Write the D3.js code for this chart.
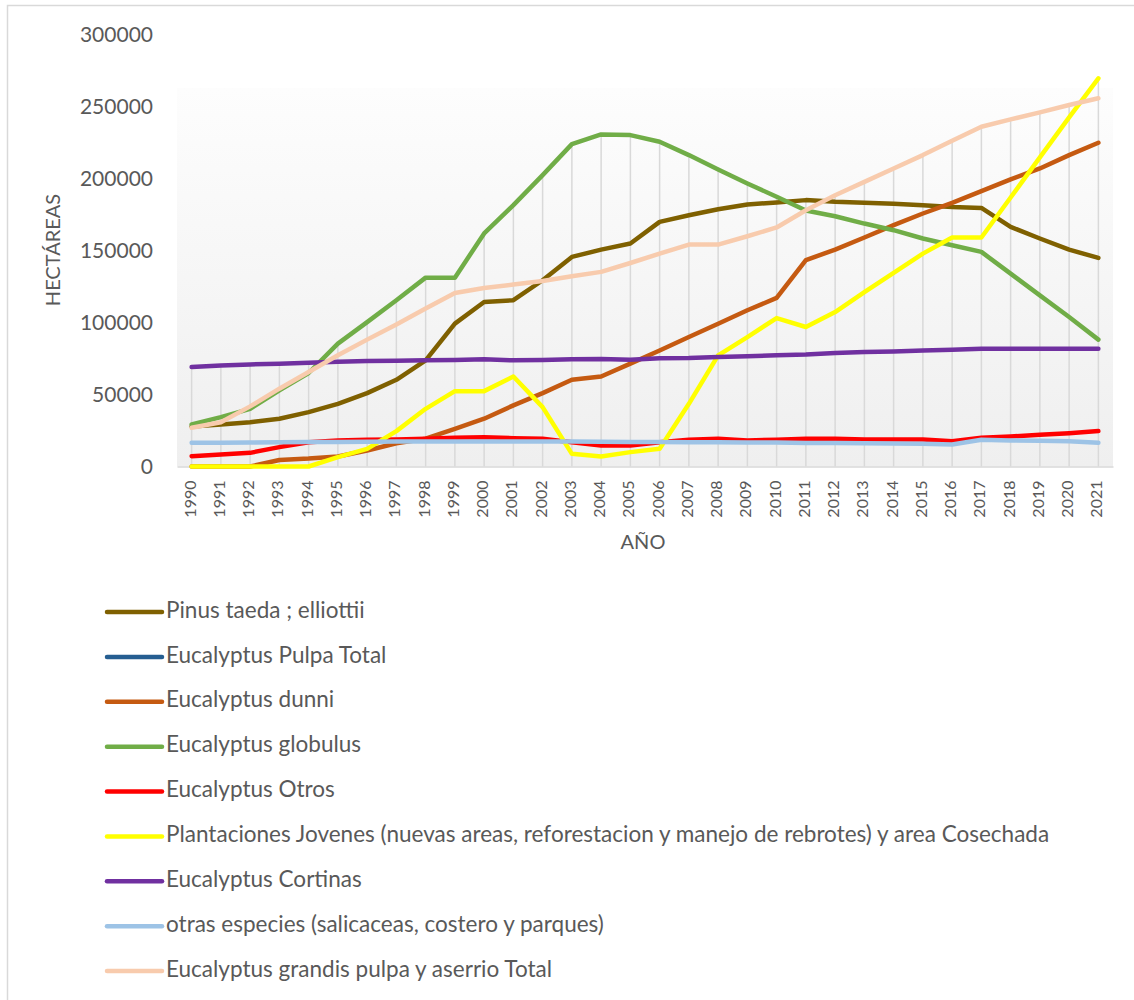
<!DOCTYPE html>
<html><head><meta charset="utf-8">
<script src="https://cdn.jsdelivr.net/npm/d3@7/dist/d3.min.js"></script>
<style>body{margin:0;background:#fff}svg{display:block}</style>
</head><body>
<svg id="c" width="1134" height="1000"></svg>
<script>
const years = d3.range(1990, 2022).map(String);
const yTicks = [0, 50000, 100000, 150000, 200000, 250000, 300000];
const seriesNames = [
  "Pinus taeda ; elliottii",
  "Eucalyptus Pulpa Total",
  "Eucalyptus dunni",
  "Eucalyptus globulus",
  "Eucalyptus Otros",
  "Plantaciones Jovenes (nuevas areas, reforestacion y manejo de rebrotes) y area Cosechada",
  "Eucalyptus Cortinas",
  "otras especies (salicaceas, costero y parques)",
  "Eucalyptus grandis pulpa y aserrio Total"
];
const seriesColors = ["#7f6000","#255e91","#c55a11","#70ad47","#ff0000","#ffff00","#7030a0","#9dc3e6","#f8cbad"];
const pinus = [27800,29200,30800,33200,37800,43600,51000,60300,73800,99300,114400,115600,129500,145700,150800,155000,170100,174700,178900,182200,183600,185200,184000,183300,182600,181700,180500,179800,166600,158500,150800,145000];
const pulpaTotal = [];
const dunni = [0,0,0,4500,5500,7000,11100,16200,19300,26200,33200,42500,51000,60300,62600,71500,80700,90000,99300,108600,117200,143500,150800,159200,167800,175900,183300,191400,199600,207200,216500,225100];
const globulus = [29200,34300,40100,52900,65000,85400,100400,115600,131300,131300,162000,181700,202600,224100,230900,230400,225800,216500,206500,196800,187500,178000,174000,168900,164300,158500,153800,149200,134100,119000,103900,88200];
const otros = [7200,8400,9500,13500,16900,18100,18600,18800,19300,20000,20400,19700,19300,16900,14600,14600,16900,18600,19300,18100,18600,19300,19300,18800,18800,18800,17600,20000,20900,22000,23200,24600];
const plantaciones = [0,0,0,0,0,6500,12300,24600,40100,52400,52400,62600,41300,8800,7000,10000,12300,43600,77300,90000,103200,97000,107400,121300,134600,148000,159200,159200,187000,214900,242700,269900];
const cortinas = [69100,70300,71000,71500,72200,72900,73300,73600,73800,74000,74500,73800,74000,74500,74700,74200,75200,75400,76100,76600,77300,77800,78900,79600,80000,80700,81200,81900,81900,81900,81900,81900];
const otras = [16500,16500,16700,16800,17000,17100,17200,17300,17400,17400,17400,17400,17400,17300,17200,17100,17000,16900,16800,16700,16600,16400,16300,16200,16000,15800,15300,18600,18100,17900,17600,16500];
const grandis = [26900,30800,41800,54100,65700,77300,88200,98800,109800,120600,124100,126500,129000,132300,135300,141500,148000,154300,154300,160100,166200,178200,188600,197900,207200,216500,226500,236200,241300,246200,251300,256000];

const seriesValues = [pinus, pulpaTotal, dunni, globulus, otros, plantaciones, cortinas, otras, grandis];
const series = seriesNames.map((n,i)=>({name:n, color:seriesColors[i], values:seriesValues[i]}));

const svg = d3.select("#c");
const FONT = "Lato, 'Open Sans', sans-serif";
const TXT = "#595959";

// frame
svg.append("rect").attr("x",7.5).attr("y",5.5).attr("width",1200).attr("height",1200)
  .attr("fill","#fff").attr("stroke","#d9d9d9").attr("stroke-width",1.5);

const x = d3.scaleBand().domain(years).range([177,1113]);
const y = d3.scaleLinear().domain([0,300000]).range([466.5,35]);
const cx = d => x(d) + x.bandwidth()/2;

// plot background gradient
const defs = svg.append("defs");
const g = defs.append("linearGradient").attr("id","bg").attr("x1",0).attr("y1",0).attr("x2",0).attr("y2",1);
g.append("stop").attr("offset","0%").attr("stop-color","#fdfdfd");
g.append("stop").attr("offset","100%").attr("stop-color","#efefef");
svg.append("rect").attr("x",177).attr("y",88).attr("width",936).attr("height",y(0)-88).attr("fill","url(#bg)");

// drop lines
const maxes = years.map((yr,i)=>d3.max(series, s => s.values[i]));
svg.append("g").selectAll("line").data(years).join("line")
  .attr("x1",d=>cx(d)).attr("x2",d=>cx(d))
  .attr("y1",(d,i)=>y(maxes[i])).attr("y2",y(0))
  .attr("stroke","#d9d9d9").attr("stroke-width",1.5);

// x axis
const xAxis = svg.append("g").attr("transform",`translate(0,${y(0)})`).call(d3.axisBottom(x).tickSize(0).tickPadding(0));
xAxis.select(".domain").attr("stroke","#d9d9d9").attr("stroke-width",1.5);
xAxis.selectAll("text").attr("font-family",FONT).attr("font-size",16).attr("fill",TXT)
  .attr("text-anchor","end").attr("dy",null)
  .attr("transform","translate(0,14) rotate(-90)").attr("x",0).attr("y",0).attr("dominant-baseline","middle");

// y axis
const yAxis = svg.append("g").attr("transform","translate(153,0)")
  .call(d3.axisLeft(y).tickValues(yTicks).tickSize(0).tickPadding(0).tickFormat(d3.format("d")));
yAxis.select(".domain").remove();
yAxis.selectAll("text").attr("font-family",FONT).attr("font-size",21).attr("fill",TXT);

// titles
svg.append("text").attr("x",643).attr("y",544).attr("text-anchor","middle").attr("dominant-baseline","middle")
  .attr("font-family",FONT).attr("font-size",20).attr("fill",TXT).text("AÑO");
svg.append("text").attr("transform","translate(55,250) rotate(-90)").attr("text-anchor","middle").attr("dominant-baseline","middle")
  .attr("font-family",FONT).attr("font-size",20).attr("fill",TXT).text("HECTÁREAS");

// lines
const line = d3.line().defined(d=>d!=null).x((d,i)=>cx(years[i])).y(d=>y(d));
svg.append("g").selectAll("path").data(series).join("path")
  .attr("d",s=>s.values.length? line(s.values):null)
  .attr("fill","none").attr("stroke",s=>s.color).attr("stroke-width",4.5)
  .attr("stroke-linejoin","round").attr("stroke-linecap","round");

// legend
const leg = svg.append("g");
const ly = d3.scalePoint().domain(seriesNames).range([612,971]);
const items = leg.selectAll("g").data(series).join("g").attr("transform",s=>`translate(0,${ly(s.name)})`);
items.append("line").attr("x1",107).attr("x2",162).attr("stroke",s=>s.color).attr("stroke-width",4.5).attr("stroke-linecap","round");
const lt = items.append("text").attr("x",166).attr("dominant-baseline","middle")
  .attr("font-family",FONT).attr("font-size",20).attr("fill",TXT).text(s=>s.name);
// fit font size so the longest label spans like reference
const longest = lt.filter(s=>s.name.startsWith("Plantaciones")).node();
const w = longest.getComputedTextLength();
const fs = 20*884/w;
lt.attr("font-size",fs);
</script>
</body></html>
